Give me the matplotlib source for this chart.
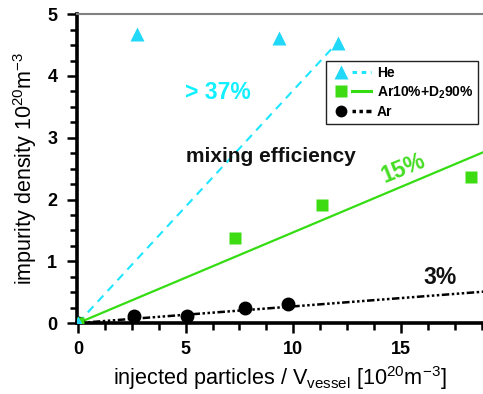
import matplotlib
matplotlib.use("Agg")
import matplotlib.pyplot as plt
from matplotlib.lines import Line2D
from matplotlib.legend_handler import HandlerTuple
import numpy as np

plt.rcParams['font.family'] = ['Liberation Sans', 'DejaVu Sans']
plt.rcParams['mathtext.fontset'] = 'custom'
plt.rcParams['mathtext.rm'] = 'Liberation Sans'
plt.rcParams['mathtext.it'] = 'Liberation Sans:italic'
plt.rcParams['mathtext.bf'] = 'Liberation Sans:bold'

# data
he_x = [0.0, 2.75, 9.35, 12.05]
he_y = [0.0, 4.68, 4.62, 4.54]
mix_x = [0.0, 7.3, 11.35, 18.25]
mix_y = [0.0, 1.38, 1.91, 2.37]
ar_x = [0.0, 2.6, 5.05, 7.75, 9.75]
ar_y = [0.0, 0.11, 0.12, 0.25, 0.31]

# fitted mixing-efficiency lines
he_slope, he_xmax = 0.377, 12.0
mix_slope, mix_xmax = 0.147, 19.5
ar_slope, ar_xmax = 0.027, 19.5

c_he = '#22d8f8'
c_he_line = '#1ee6ff'
c_mix = '#3ddc12'
c_mix_line = '#33dd11'
ar_ls = (0, (1, 1, 1, 1, 1, 1, 3, 1))

fig = plt.figure(figsize=(4.83, 3.94), dpi=100)
ax = fig.add_axes([0.159, 0.180, 0.841, 0.784])

xs = np.array([0.0, he_xmax])
ax.plot(xs, he_slope * xs, color=c_he_line, lw=1.5, ls=(0, (4, 3)), zorder=2)
xs = np.array([0.0, mix_xmax])
ax.plot(xs, mix_slope * xs, color=c_mix_line, lw=1.6, ls='-', zorder=2)
xs = np.array([0.0, ar_xmax])
ax.plot(xs, ar_slope * xs, color='black', lw=1.8, ls=ar_ls, zorder=2)

ax.plot(ar_x, ar_y, 'o', color='black', ms=9, zorder=3)
ax.plot(mix_x, mix_y, 's', color=c_mix, ms=8, mec='none', zorder=3)
ax.plot(he_x, he_y, '^', color=c_he, ms=10, mec='none', zorder=4)

ax.set_xlim(-0.05, 18.8)
ax.set_ylim(0, 5)
ax.set_xticks([0, 5, 10, 15])
ax.set_xticks(np.arange(0, 18.8, 1.25), minor=True)
ax.set_yticks([0, 1, 2, 3, 4, 5])
ax.set_yticks(np.arange(0, 5.01, 0.25), minor=True)
for lab in ax.get_xticklabels() + ax.get_yticklabels():
    lab.set_fontweight('bold')
    lab.set_fontsize(13)
ax.tick_params(which='major', direction='out', length=7, width=1.8)
ax.tick_params(axis='y', which='major', pad=7)
ax.tick_params(axis='x', which='major', pad=6)
ax.tick_params(which='minor', direction='out', length=5, width=1.8)

ax.spines['right'].set_visible(False)
ax.spines['top'].set_color('#808080')
ax.spines['top'].set_linewidth(1.5)
ax.spines['left'].set_linewidth(2.6)
ax.spines['bottom'].set_linewidth(2.6)

ax.set_xlabel(r'injected particles / V$_{\mathrm{vessel}}$ [10$^{20}$m$^{-3}$]', fontsize=15.6, labelpad=4)
ax.set_ylabel(r'impurity density 10$^{20}$m$^{-3}$', fontsize=15.5, labelpad=6)

ax.text(4.95, 3.74, '> 37%', color='#10f0ff', fontsize=16.5, fontweight='bold', va='center', ha='left')
ax.text(5.0, 2.69, 'mixing efficiency', color='#111111', fontsize=15, fontweight='bold', va='center', ha='left')
ax.text(15.1, 2.5, '15%', color='#44dd22', fontsize=16.5, fontweight='bold', va='center', ha='center', rotation=22)
ax.text(16.8, 0.74, '3%', color='#111111', fontsize=16.5, fontweight='bold', va='center', ha='center')

def mk(marker, color, ms):
    return Line2D([], [], ls='none', marker=marker, mfc=color, mec='none', ms=ms)

handles = [
    (mk('^', c_he, 10), Line2D([], [], color=c_he_line, ls=(0, (1.5, 1.5)), lw=2.2)),
    (mk('s', c_mix, 8), Line2D([], [], color=c_mix_line, ls='-', lw=2.2)),
    (mk('o', 'black', 8.5), Line2D([], [], color='black', ls=(0, (1, 1, 1, 1, 3, 1)), lw=2.5)),
]
labels = ['He', r'Ar10%+D$_\mathbf{2}$90%', 'Ar']
leg = ax.legend(handles, labels, loc='upper left', bbox_to_anchor=(0.614, 0.848), borderaxespad=0,
                prop={'weight': 'bold', 'size': 10}, frameon=True, fancybox=False,
                handlelength=2.9, handletextpad=0.4, labelspacing=0.3,
                borderpad=0.35, framealpha=1,
                handler_map={tuple: HandlerTuple(ndivide=None, pad=0.1)})
leg.get_frame().set_linewidth(1.0)
leg.get_frame().set_edgecolor('#222222')

fig.savefig('out.png', dpi=100)
